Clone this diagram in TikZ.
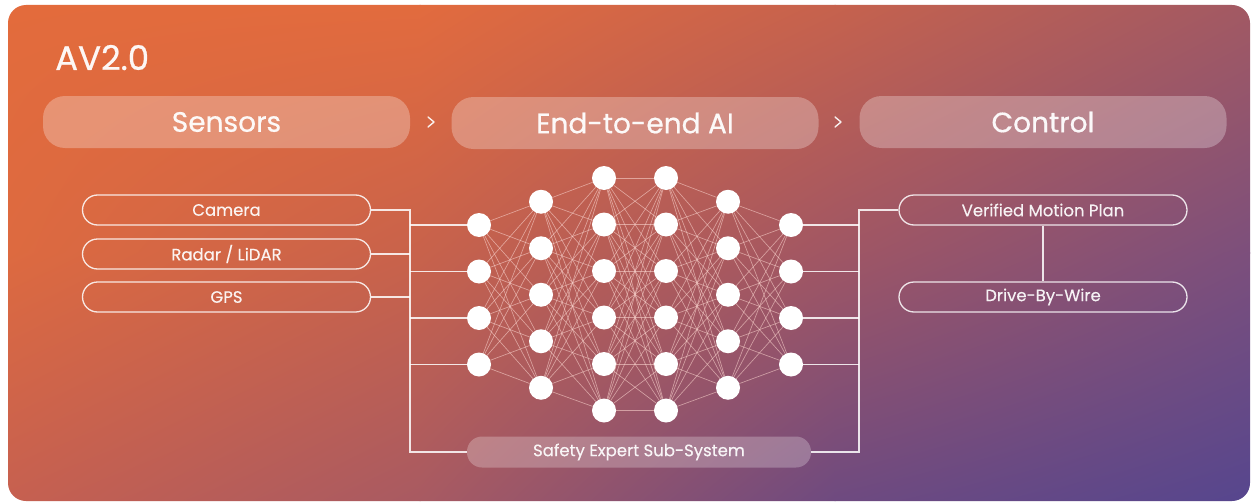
\documentclass[tikz,border=0pt]{standalone}
\usepackage{fontspec}
\setmainfont{Poppins}
\newfontfamily\headfont{Poppins}[FakeBold=0.6]
\newfontfamily\labelfont{Poppins}[FakeBold=0.25]
\usetikzlibrary{shadings}
% background colour grid (columns x = 8, 420, 835, 1250; rows y = 5, 253, 501)
\definecolor{gA1}{HTML}{E36B3C}\definecolor{gA2}{HTML}{E26B3E}
\definecolor{gA3}{HTML}{C6624D}\definecolor{gA4}{HTML}{A25963}
\definecolor{gB1}{HTML}{DD6A40}\definecolor{gB2}{HTML}{C8624B}
\definecolor{gB3}{HTML}{A05664}\definecolor{gB4}{HTML}{7C4F7C}
\definecolor{gC1}{HTML}{C66050}\definecolor{gC2}{HTML}{A85A62}
\definecolor{gC3}{HTML}{6E4A80}\definecolor{gC4}{HTML}{56468E}
\definecolor{synapsecol}{HTML}{F9D2CC}
\begin{document}
\begin{tikzpicture}[x=1pt,y=-1pt,
  stage/.style={rectangle, rounded corners=22, fill=white, fill opacity=0.28,
    text=white, text opacity=0.95, minimum width=367, minimum height=52,
    inner sep=0, font=\headfont\fontsize{28}{32}\selectfont},
  chevron/.style={draw=white, draw opacity=0.9, line width=1.4,
    line cap=round, line join=round},
  ioBox/.style={rectangle, rounded corners=15, draw=white, draw opacity=0.85,
    line width=1.3, minimum width=288, minimum height=30, inner sep=0,
    text=white, text opacity=0.92, font=\labelfont\fontsize{16.5}{19}\selectfont},
  safety/.style={rectangle, rounded corners=15, fill=white, fill opacity=0.25,
    minimum width=344, minimum height=31, inner sep=0,
    text=white, text opacity=0.92, font=\labelfont\fontsize{16.5}{19}\selectfont},
  neuron/.style={circle, fill=white, minimum size=24, inner sep=0},
  synapse/.style={draw=synapsecol, line width=0.65, opacity=0.6},
  wire/.style={draw=white, draw opacity=0.85, line width=1.2},
]
\useasboundingbox (0,0) rectangle (1252,503);
\fill[white] (0,0) rectangle (1252,503);
% panel: piecewise bilinear orange-to-violet gradient
\begin{scope}
  \clip[rounded corners=18] (8,5) rectangle (1250,501);
  \shade[upper left=gA1, upper right=gA2, lower left=gB1, lower right=gB2] (7,4) rectangle (420.5,253.5);
  \shade[upper left=gA2, upper right=gA3, lower left=gB2, lower right=gB3] (419.5,4) rectangle (835.5,253.5);
  \shade[upper left=gA3, upper right=gA4, lower left=gB3, lower right=gB4] (834.5,4) rectangle (1251,253.5);
  \shade[upper left=gB1, upper right=gB2, lower left=gC1, lower right=gC2] (7,252.5) rectangle (420.5,502);
  \shade[upper left=gB2, upper right=gB3, lower left=gC2, lower right=gC3] (419.5,252.5) rectangle (835.5,502);
  \shade[upper left=gB3, upper right=gB4, lower left=gC3, lower right=gC4] (834.5,252.5) rectangle (1251,502);
\end{scope}

% title
\node[anchor=base west, inner sep=0, text=white, text opacity=0.95,
  font=\headfont\fontsize{34}{38}\selectfont] (title) at (55,70) {AV2.0};

% pipeline stages
\node[stage] (sensors) at (226.5,122) {Sensors};
\node[stage] (e2e) at (635,123) {End-to-end AI};
\node[stage] (control) at (1043,122) {Control};

% chevrons between the stages
\coordinate (chev1) at (431,122);
\coordinate (chev2) at (838,122);
\foreach \c in {chev1,chev2}{
  \draw[chevron] ([shift={(-3,-5)}]\c) -- ++(6,5) -- ++(-6,5);
}

% sensor inputs
\node[ioBox] (cam) at (226.5,210) {Camera};
\node[ioBox] (rad) at (226.5,254) {Radar / LiDAR};
\node[ioBox] (gps) at (226.5,297) {GPS};

% control outputs
\node[ioBox] (vmp) at (1043,210) {Verified Motion Plan};
\node[ioBox] (dbw) at (1043,297) {Drive-By-Wire};

% safety expert
\node[safety] (safe) at (639,452) {Safety Expert Sub-System};

% neural network layers: index/x/count/top y
\foreach \l/\x/\n/\ytop in {1/479/4/225, 2/541/5/201.75, 3/604/6/178,
                            4/666/6/178, 5/728/5/201.75, 6/791/4/225}{
  \foreach \k in {1,...,\n}{
    \node[neuron] (n\l-\k) at (\x,{\ytop+46.5*(\k-1)}) {};
  }
}
% fully connected synapses between consecutive layers
\foreach \a/\na/\b/\nb in {1/4/2/5, 2/5/3/6, 3/6/4/6, 4/6/5/5, 5/5/6/4}{
  \foreach \i in {1,...,\na}{
    \foreach \j in {1,...,\nb}{
      \draw[synapse] (n\a-\i) -- (n\b-\j);
    }
  }
}

% bus lines
\coordinate (busL) at (410,210);
\coordinate (busR) at (859,210);
\draw[wire] (cam.east) -| (busL |- safe.west) -- (safe.west);
\draw[wire] (rad.east) -- (rad.east -| busL);
\draw[wire] (gps.east) -- (gps.east -| busL);
\foreach \k in {1,...,4}{
  \draw[wire] (busL |- n1-\k) -- (n1-\k);
  \draw[wire] (n6-\k) -- (busR |- n6-\k);
}
\draw[wire] (vmp.west) -| (busR |- safe.east) -- (safe.east);
\draw[wire] (vmp) -- (dbw);
\end{tikzpicture}
\end{document}
